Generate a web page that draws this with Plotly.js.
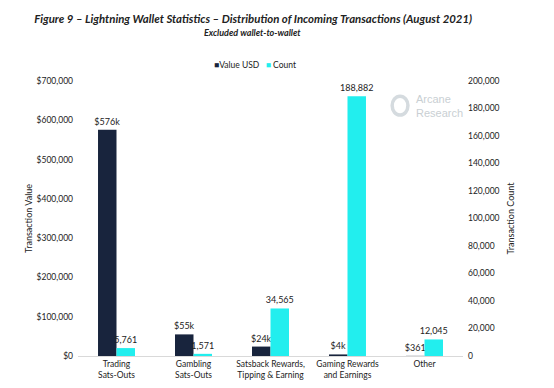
<!DOCTYPE html>
<html><head><meta charset="utf-8">
<script src="https://cdn.plot.ly/plotly-3.0.1.min.js"></script>
<style>html,body{margin:0;padding:0;background:#fff}#chart{width:554px;height:388px}</style>
</head><body><div id="chart"></div>
<script>
const categories = ["Trading<br>Sats-Outs", "Gambling<br>Sats-Outs", "Satsback Rewards,<br>Tipping & Earning", "Gaming Rewards<br>and Earnings", "Other"];
const valueUSD = [576000, 55000, 24000, 4000, 361];
const valueLabels = ["$576k", "$55k", "$24k", "$4k", "$361"];
const countValues = [5761, 1571, 34565, 188882, 12045];
const countLabels = ["5,761", "1,571", "34,565", "188,882", "12,045"];
const leftTicks = [0, 100000, 200000, 300000, 400000, 500000, 600000, 700000];
const leftTickText = ["$0", "$100,000", "$200,000", "$300,000", "$400,000", "$500,000", "$600,000", "$700,000"];
const rightTicks = [0, 20000, 40000, 60000, 80000, 100000, 120000, 140000, 160000, 180000, 200000];
const rightTickText = ["0", "20,000", "40,000", "60,000", "80,000", "100,000", "120,000", "140,000", "160,000", "180,000", "200,000"];
const seriesNames = ["Value USD", "Count"];
const seriesColors = ["#18243d", "#22eeee"];

const F = "Lato, Open Sans, sans-serif";
const traces = [
  {type:"bar", name:seriesNames[0], x:categories, y:valueUSD, yaxis:"y", offsetgroup:"1",
   marker:{color:seriesColors[0]}, text:valueLabels, textposition:"outside", cliponaxis:false, constraintext:"none",
   textfont:{size:9, color:"#222", family:F}, hoverinfo:"none"},
  {type:"bar", name:seriesNames[1], x:categories, y:countValues, yaxis:"y2", offsetgroup:"2",
   marker:{color:seriesColors[1]}, text:countLabels, textposition:"outside", cliponaxis:false, constraintext:"none",
   textfont:{size:9, color:"#222", family:F}, hoverinfo:"none"}
];
const legendText = '<span style="color:' + seriesColors[0] + '">■</span>' + seriesNames[0] +
  '   <span style="color:' + seriesColors[1] + '">■</span> ' + seriesNames[1];
const layout = {
  width:554, height:388,
  margin:{l:78, r:91, t:81, b:32},
  paper_bgcolor:"#fff", plot_bgcolor:"#fff",
  font:{family:F, size:9, color:"#333"},
  barmode:"group", bargap:0.52, bargroupgap:0,
  showlegend:false,
  title:{text:"<b><i>Figure 9 – Lightning Wallet Statistics – Distribution of Incoming Transactions (August 2021)</i></b>", x:0.457, xanchor:"center", y:0.951, yanchor:"middle", font:{size:11.4, color:"#222", family:F}},
  xaxis:{showline:true, linecolor:"#d9d9d9", linewidth:1, ticks:"", showgrid:false, zeroline:false, automargin:false, tickfont:{size:8.5, color:"#222"}, fixedrange:true},
  yaxis:{range:[0,700000], tickvals:leftTicks, ticktext:leftTickText, showgrid:false, zeroline:false, showline:false, ticks:"", automargin:false, ticklabelstandoff:4, tickfont:{size:8.5, color:"#222"},
         title:{text:"Transaction Value", font:{size:9, color:"#222"}, standoff:2}},
  yaxis2:{range:[0,200000], overlaying:"y", side:"right", tickvals:rightTicks, ticktext:rightTickText, showgrid:false, zeroline:false, showline:false, ticks:"", automargin:false, ticklabelstandoff:4, tickfont:{size:8.5, color:"#222"},
         title:{text:"Transaction Count", font:{size:9, color:"#222"}, standoff:9}},
  annotations:[
    {text:"<b><i>Excluded wallet-to-wallet</i></b>", xref:"paper", yref:"paper", x:0.4545, y:1.175, xanchor:"center", yanchor:"middle", showarrow:false, font:{size:9, color:"#222"}},
    {text:legendText, xref:"paper", yref:"paper", x:0.46, y:1.058, xanchor:"center", yanchor:"middle", showarrow:false, font:{size:8.5, color:"#222"}},
    {text:"Arcane<br>Research", xref:"paper", yref:"paper", x:0.872, y:0.909, xanchor:"left", yanchor:"middle", showarrow:false, align:"left", font:{size:11, color:"#c9cfd3", family:"Liberation Sans, sans-serif"}}
  ],
  shapes:[
    {type:"circle", xref:"paper", yref:"paper", x0:0.816, x1:0.857, y0:0.876, y1:0.945, line:{color:"#d5dbdf", width:3.5}}
  ]
};
Plotly.newPlot("chart", traces, layout, {displayModeBar:false, staticPlot:true});
</script></body></html>
